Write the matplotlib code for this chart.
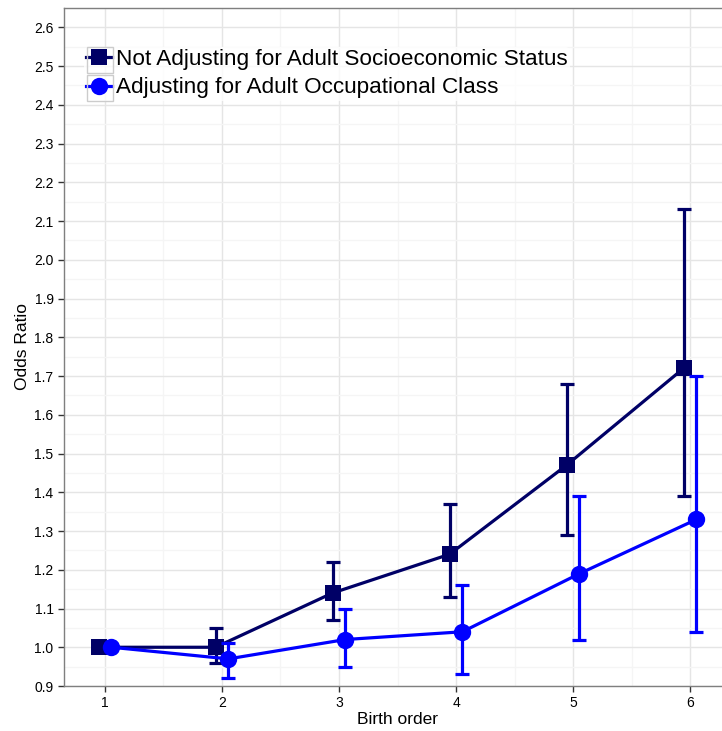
import matplotlib
matplotlib.use("Agg")
import matplotlib.pyplot as plt
from matplotlib.patches import Rectangle
from matplotlib.ticker import MultipleLocator

plt.rcParams['font.family'] = ['Liberation Sans', 'DejaVu Sans']

birth_order = [1, 2, 3, 4, 5, 6]
labels = ["Not Adjusting for Adult Socioeconomic Status",
          "Adjusting for Adult Occupational Class"]

or_not = [1.00, 1.00, 1.14, 1.24, 1.47, 1.72]
lo_not = [1.00, 0.96, 1.07, 1.13, 1.29, 1.39]
hi_not = [1.00, 1.05, 1.22, 1.37, 1.68, 2.13]

or_adj = [1.00, 0.97, 1.02, 1.04, 1.19, 1.33]
lo_adj = [1.00, 0.92, 0.95, 0.93, 1.02, 1.04]
hi_adj = [1.00, 1.01, 1.10, 1.16, 1.39, 1.70]

navy = "#000066"
blue = "#0000FF"
dodge = 0.055

fig = plt.figure(figsize=(7.22, 7.31), dpi=100)
ax = fig.add_axes([64/722, 45/731, 667/722, 678/731])

def draw(xs, ys, lo, hi, color, marker, ms, label, z):
    keep = [i for i in range(len(xs)) if hi[i] > lo[i]]
    ex = [xs[i] for i in keep]
    ey = [ys[i] for i in keep]
    el = [ys[i] - lo[i] for i in keep]
    eh = [hi[i] - ys[i] for i in keep]
    ax.errorbar(ex, ey, yerr=[el, eh], fmt='none', ecolor=color,
                elinewidth=2.3, capsize=5, capthick=2.3, zorder=z)
    ax.plot(xs, ys, color=color, lw=2.3, marker=marker, ms=ms,
            markeredgewidth=0, label=label, zorder=z + 1)

draw([x - dodge for x in birth_order], or_not, lo_not, hi_not, navy, 's', 11.5, labels[0], 3)
draw([x + dodge for x in birth_order], or_adj, lo_adj, hi_adj, blue, 'o', 12.5, labels[1], 5)

ax.set_xlim(0.65, 6.35)
ax.set_ylim(0.9, 2.65)
ax.xaxis.set_major_locator(MultipleLocator(1))
ax.xaxis.set_minor_locator(MultipleLocator(0.5))
ax.yaxis.set_major_locator(MultipleLocator(0.1))
ax.yaxis.set_minor_locator(MultipleLocator(0.05))
ax.set_yticks(ax.get_yticks())
ax.set_yticklabels([f"{v:.1f}" for v in ax.get_yticks()])
ax.set_ylim(0.9, 2.65)
ax.grid(which='major', color='#e5e5e5', lw=1.0, zorder=0)
ax.grid(which='minor', color='#f5f5f5', lw=1.0, zorder=0)
ax.set_axisbelow(True)
ax.tick_params(which='minor', length=0)
ax.tick_params(which='major', length=4, width=1, color='#333333',
               labelsize=10, labelcolor='black', direction='out')
for s in ax.spines.values():
    s.set_color('#7f7f7f')
    s.set_linewidth(1.0)
ax.spines['right'].set_visible(False)

ax.set_xlabel("Birth order", fontsize=12.5, labelpad=1)
ax.set_ylabel("Odds Ratio", fontsize=12.5, labelpad=3)

fs = 16.2
leg = ax.legend(loc='upper left', bbox_to_anchor=((84 - 64)/667, 1 - (47 - 8)/678),
                frameon=True, fontsize=fs, handlelength=1.15, handletextpad=0.15,
                borderpad=0.1, labelspacing=0.32, borderaxespad=0,
                markerscale=1.0)
leg.get_frame().set_facecolor('white')
leg.get_frame().set_edgecolor('none')
leg.set_zorder(10)

fig.canvas.draw()
renderer = fig.canvas.get_renderer()
# legend key boxes, aligned with each label row
for t in leg.get_texts():
    bb = t.get_window_extent(renderer)
    cy = (bb.y0 + bb.y1) / 2
    x0 = bb.x0 - 3 - 26
    r = Rectangle((x0 / 722, (cy - 13) / 731), 26/722, 26/731,
                  transform=fig.transFigure, fill=False,
                  edgecolor='#cccccc', lw=1.0, zorder=11)
    fig.add_artist(r)

fig.savefig("out.png", dpi=100)
